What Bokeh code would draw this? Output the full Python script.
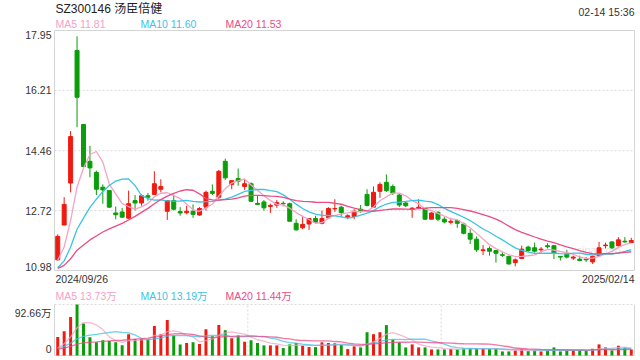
from bokeh.plotting import figure
from bokeh.models import Range1d, ColumnDataSource
from bokeh.embed import file_html
from bokeh.resources import INLINE
from bokeh.core.properties import value

# ---------------- data ----------------
stock_title = "SZ300146 汤臣倍健"
timestamp = "02-14 15:36"
first_date = "2024/09/26"
last_date = "2025/02/14"

opens = [11.29, 12.30, 13.52, 17.37, 15.22, 14.15, 13.83, 13.40, 13.30, 12.65,
         12.68, 12.50, 13.01, 12.94, 13.15, 13.19, 13.34, 12.70, 13.01, 12.69,
         12.66, 12.70, 12.59, 12.82, 13.28, 13.11, 14.15, 13.48, 13.65, 13.42,
         13.50, 12.93, 12.97, 12.84, 12.88, 12.93, 12.92, 12.35, 12.22, 12.33,
         12.49, 12.35, 12.51, 12.77, 12.82, 12.53, 12.55, 12.76, 13.19, 12.82,
         13.28, 13.54, 13.42, 13.17, 12.94, 12.76, 12.80, 12.78, 12.47, 12.67,
         12.47, 12.38, 12.43, 12.33, 12.06, 11.89, 11.56, 11.62, 11.56, 11.44,
         11.39, 11.21, 11.33, 11.66, 11.64, 11.58, 11.70, 11.70, 11.39, 11.46,
         11.34, 11.31, 11.31, 11.23, 11.41, 11.70, 11.81, 11.70, 11.83, 11.79]
highs = [12.03, 13.11, 15.03, 17.78, 15.22, 14.60, 13.88, 13.48, 13.30, 12.84,
         12.80, 13.30, 13.17, 13.19, 13.23, 13.86, 13.63, 13.03, 13.19, 12.82,
         12.86, 12.90, 12.82, 13.30, 13.48, 13.90, 14.23, 13.59, 13.94, 13.63,
         13.54, 13.17, 13.03, 12.92, 13.03, 12.99, 12.95, 12.47, 12.57, 12.49,
         12.57, 12.72, 12.82, 13.05, 12.86, 12.61, 12.76, 12.88, 13.34, 13.42,
         13.54, 13.77, 13.48, 13.21, 12.97, 12.82, 13.05, 12.80, 12.67, 12.70,
         12.53, 12.51, 12.47, 12.37, 12.18, 11.97, 11.72, 11.68, 11.56, 11.52,
         11.41, 11.33, 11.70, 11.70, 11.79, 11.66, 11.77, 11.72, 11.39, 11.58,
         11.41, 11.41, 11.37, 11.41, 11.81, 11.79, 11.83, 11.95, 11.95, 11.93]
lows = [11.27, 12.30, 13.25, 15.14, 14.00, 13.69, 13.17, 12.92, 12.80, 12.47,
        12.51, 12.47, 12.72, 12.86, 13.01, 13.19, 13.25, 12.45, 12.72, 12.57,
        12.61, 12.51, 12.57, 12.72, 13.17, 13.05, 13.61, 13.34, 13.44, 13.32,
        12.99, 12.90, 12.72, 12.65, 12.80, 12.84, 12.41, 12.14, 12.18, 12.16,
        12.33, 12.32, 12.49, 12.68, 12.53, 12.47, 12.47, 12.65, 12.84, 12.82,
        13.09, 13.26, 13.17, 12.82, 12.82, 12.51, 12.78, 12.45, 12.47, 12.41,
        12.35, 12.32, 12.22, 12.03, 11.75, 11.52, 11.43, 11.41, 11.21, 11.37,
        11.15, 11.10, 11.31, 11.52, 11.50, 11.50, 11.62, 11.31, 11.27, 11.33,
        11.29, 11.25, 11.23, 11.17, 11.39, 11.62, 11.60, 11.68, 11.79, 11.79]
closes = [11.97, 12.90, 14.87, 16.01, 14.00, 13.96, 13.34, 13.32, 12.82, 12.60,
          12.53, 12.92, 12.94, 13.15, 13.11, 13.50, 13.42, 13.01, 12.76, 12.65,
          12.70, 12.61, 12.78, 13.25, 13.22, 13.86, 13.67, 13.59, 13.57, 13.50,
          12.99, 12.90, 12.80, 12.87, 12.95, 12.92, 12.41, 12.16, 12.32, 12.49,
          12.38, 12.49, 12.78, 12.78, 12.66, 12.57, 12.70, 12.72, 12.87, 13.25,
          13.48, 13.30, 13.23, 12.88, 12.86, 12.79, 12.82, 12.47, 12.65, 12.47,
          12.39, 12.41, 12.35, 12.06, 11.89, 11.58, 11.58, 11.54, 11.48, 11.42,
          11.17, 11.29, 11.60, 11.56, 11.54, 11.60, 11.67, 11.48, 11.37, 11.37,
          11.37, 11.27, 11.29, 11.39, 11.64, 11.72, 11.64, 11.87, 11.81, 11.85]
# volume, in 万 (10k shares)
volumes = [33.7, 44.2, 70.0, 92.66, 58.3, 33.1, 23.9, 27.6, 26.4, 23.9,
           18.4, 38.7, 30.1, 30.1, 30.1, 53.4, 38.7, 64.4, 36.2, 20.2,
           22.7, 23.9, 20.9, 47.9, 35.0, 55.2, 46.0, 31.3, 36.2, 25.2,
           27.6, 22.7, 18.4, 18.4, 18.4, 13.5, 20.2, 22.7, 17.8, 15.3,
           15.3, 23.9, 22.7, 22.1, 19.0, 11.7, 16.6, 14.7, 42.3, 38.7,
           42.3, 55.2, 28.8, 23.9, 14.7, 20.2, 14.7, 14.7, 11.0, 11.0,
           11.0, 11.7, 11.0, 12.9, 12.9, 12.9, 12.9, 11.7, 11.7, 7.4,
           7.4, 9.2, 11.7, 8.0, 9.2, 7.4, 9.2, 14.7, 7.4, 9.2,
           9.2, 9.2, 9.2, 12.3, 20.2, 14.7, 9.2, 17.8, 14.7, 11.0]
# sessions before the window (estimated from where the MA lines start)
prev_closes = [11.10, 11.05, 11.00, 10.98, 11.02, 11.06, 11.01, 10.99, 10.97, 11.02,
               10.90, 10.86, 10.82, 10.80, 10.84, 10.95, 11.05, 11.12, 11.28]
prev_volumes = [9.5, 10.2, 9.0, 10.5, 9.8, 8.9, 10.4, 9.6, 10.1, 10.0,
                12.0, 13.5, 14.0, 12.5, 12.5, 8.0, 8.5, 9.5, 10.8]

price_ticks = [10.98, 12.72, 14.46, 16.21, 17.95]
price_tick_labels = ["10.98", "12.72", "14.46", "16.21", "17.95"]
vol_axis_max = 92.66
vol_tick_labels = ["0", "92.66万"]
ma_periods = [5, 10, 20]
ma_legend = ["MA5 11.81", "MA10 11.60", "MA20 11.53"]
vol_ma_legend = ["MA5 13.73万", "MA10 13.19万", "MA20 11.44万"]

# ---------------- style / layout ----------------
ma_colors = ["#f6a2c4", "#3cc3e4", "#ec4b86"]
UP, DOWN = "#ef1b10", "#0a9e0a"
TEXT = "#333333"
BORDER = "#d4d4d4"
GRID = "#dadada"
FONT = "'Liberation Sans', 'Noto Sans CJK SC', sans-serif"

W, H = 640, 360
FL, FR = 54, 634          # frame left / right (px)
PT, PB = 30, 270          # price panel top / bottom (px)
VT, VB = 304, 355         # volume panel top / bottom (px)


def moving_average(prev, cur, k):
    full = list(prev) + list(cur)
    off = len(prev)
    return [sum(full[off + i - k + 1: off + i + 1]) / k for i in range(len(cur))]


n = len(closes)
xs = list(range(n))
colors = [UP if c >= o else DOWN for o, c in zip(opens, closes)]
src = ColumnDataSource(dict(
    x=xs, open=opens, high=highs, low=lows, close=closes, vol=volumes,
    top=[max(o, c) for o, c in zip(opens, closes)],
    bot=[min(o, c) for o, c in zip(opens, closes)],
    color=colors,
))

pmin, pmax = price_ticks[0], price_ticks[-1]
xpx = (FR - FL) / n
ypx = (PB - PT) / (pmax - pmin)
vpx = (VB - VT) / vol_axis_max

p = figure(width=W, height=H,
           x_range=Range1d(-0.5 - FL / xpx, n - 0.5 + (W - FR) / xpx),
           y_range=Range1d(pmin - (H - PB) / ypx, pmax + PT / ypx),
           output_backend="svg", toolbar_location=None,
           x_axis_location=None, y_axis_location=None,
           min_border=0)
p.extra_y_ranges = {"vol": Range1d(-(H - VB) / vpx, VB / vpx)}
p.outline_line_color = None
p.xgrid.visible = False
p.ygrid.visible = False
p.background_fill_color = "white"
p.border_fill_color = "white"

x0, x1 = -0.5, n - 0.5

# price panel frame + grid
p.segment(x0=[x0] * 3, x1=[x1] * 3, y0=price_ticks[1:-1], y1=price_ticks[1:-1],
          line_color=GRID, line_width=1, line_dash="2 2")
p.quad(left=[x0], right=[x1], bottom=[pmin], top=[pmax],
       fill_color=None, line_color=BORDER, line_width=1)

# volume panel frame + grid
p.segment(x0=[x0, x1, x0], x1=[x0, x1, x1], y0=[0, 0, 0],
          y1=[vol_axis_max, vol_axis_max, 0],
          line_color=BORDER, line_width=1, y_range_name="vol")
p.segment(x0=[x0], x1=[x1], y0=[vol_axis_max], y1=[vol_axis_max],
          line_color=GRID, line_width=1, line_dash="2 2", y_range_name="vol")
thirds = [n / 3 - 0.5, 2 * n / 3 - 0.5]
p.segment(x0=thirds, x1=thirds, y0=[0, 0], y1=[vol_axis_max] * 2,
          line_color=GRID, line_width=1, line_dash="2 2", y_range_name="vol")

# watermark
p.text(x=[x1], y=[pmin], text=["sina.com"], text_color="#c8c8c8", text_alpha=0.55,
       text_font_size="11px", text_align="right", text_baseline="middle",
       x_offset=-14, y_offset=-21, text_font=value(FONT))

# candles
p.segment(x0="x", x1="x", y0="low", y1="high", line_color="color", line_width=1, source=src)
p.vbar(x="x", width=0.62, top="top", bottom="bot", fill_color="color",
       line_color="color", line_width=1, source=src)

# volume bars
p.vbar(x="x", width=0.46, top="vol", bottom=0, fill_color="color",
       line_color=None, source=src, y_range_name="vol")

# moving averages
for k, col in zip(ma_periods, ma_colors):
    p.line(xs, moving_average(prev_closes, closes, k), line_color=col, line_width=1.3)
    p.line(xs, moving_average(prev_volumes, volumes, k), line_color=col,
           line_width=1.3, line_alpha=0.75, y_range_name="vol")


def txt(x, y, s, color=TEXT, size="10.5px", align="left", baseline="middle",
        xo=0, yo=0, rng="default"):
    p.text(x=[x], y=[y], text=[s], text_color=color, text_font_size=size,
           text_align=align, text_baseline=baseline, x_offset=xo, y_offset=yo,
           text_font=value(FONT), y_range_name=rng)


# header
txt(x0, pmax, stock_title, "#222222", "12px", xo=1, yo=-22)
txt(x1, pmax, timestamp, align="right", yo=-18.5)
for j, (s, col) in enumerate(zip(ma_legend, ma_colors)):
    txt(x0, pmax, s, col, xo=1 + 85 * j, yo=-6.5)

# price labels
for t, s in zip(price_ticks, price_tick_labels):
    base = "top" if t == pmax else ("bottom" if t == pmin else "middle")
    txt(x0, t, s, align="right", baseline=base, xo=-3)

# dates
txt(x0, pmin, first_date, xo=1, yo=8)
txt(x1, pmin, last_date, align="right", yo=8)

# volume legend + labels
for j, (s, col) in enumerate(zip(vol_ma_legend, ma_colors)):
    txt(x0, vol_axis_max, s, col, xo=1 + 85 * j, yo=-9, rng="vol")
txt(x0, vol_axis_max, vol_tick_labels[1], align="right", xo=-3, yo=8, rng="vol")
txt(x0, 0, vol_tick_labels[0], align="right", xo=-3, yo=-7, rng="vol")

open("out.html", "w").write(file_html(p, INLINE))
